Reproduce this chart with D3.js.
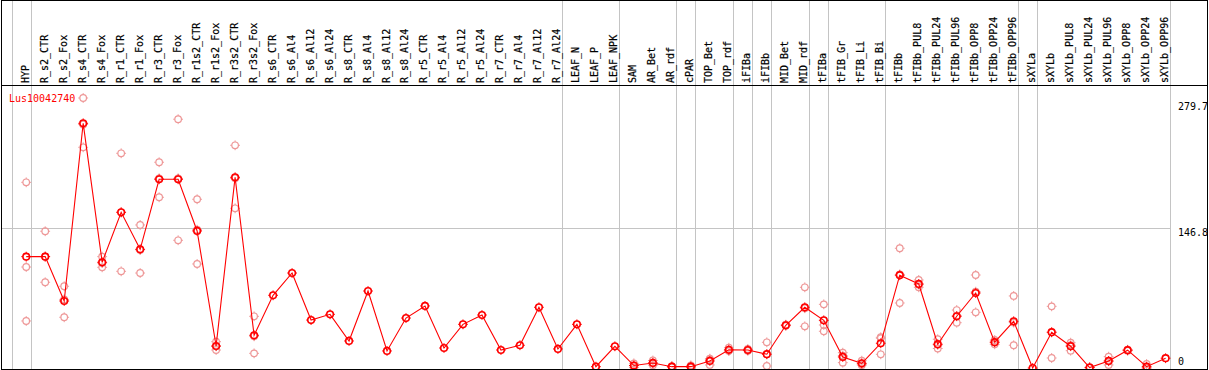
<!DOCTYPE html>
<html><head><meta charset="utf-8">
<script src="https://cdn.jsdelivr.net/npm/d3@7"></script>
<style>
html,body{margin:0;padding:0;background:#fff;}
svg{display:block;}
text{font-family:"DejaVu Sans Mono","Liberation Mono",monospace;}
</style></head>
<body>
<svg id="chart" width="1209" height="370"></svg>
<script>
const title = "Lus10042740";
const categories = ["HYP","R_s2_CTR","R_s2_Fox","R_s4_CTR","R_s4_Fox","R_r1_CTR","R_r1_Fox","R_r3_CTR","R_r3_Fox","R_r1s2_CTR","R_r1s2_Fox","R_r3s2_CTR","R_r3s2_Fox","R_s6_CTR","R_s6_Al4","R_s6_Al12","R_s6_Al24","R_s8_CTR","R_s8_Al4","R_s8_Al12","R_s8_Al24","R_r5_CTR","R_r5_Al4","R_r5_Al12","R_r5_Al24","R_r7_CTR","R_r7_Al4","R_r7_Al12","R_r7_Al24","LEAF_N","LEAF_P","LEAF_NPK","SAM","AR_Bet","AR_rdf","cPAR","TOP_Bet","TOP_rdf","iFIBa","iFIBb","MID_Bet","MID_rdf","tFIBa","tFIB_Gr","tFIB_Li","tFIB_Bi","tFIBb","tFIBb_PUL8","tFIBb_PUL24","tFIBb_PUL96","tFIBb_OPP8","tFIBb_OPP24","tFIBb_OPP96","sXYLa","sXYLb","sXYLb_PUL8","sXYLb_PUL24","sXYLb_PUL96","sXYLb_OPP8","sXYLb_OPP24","sXYLb_OPP96"];
const means = [117.0,117.0,70.4,257.1,111.1,163.6,124.7,198.3,198.3,144.0,23.1,200.4,34.4,76.4,99.8,50.4,56.4,28.4,80.9,17.9,52.5,65.2,21.0,45.9,55.7,18.9,23.9,63.8,20.0,45.9,1.4,22.8,2.6,5.3,1.4,1.4,7.4,19.1,18.9,14.5,44.9,63.8,50.1,11.6,4.9,26.0,97.5,88.3,25.0,54.4,78.8,27.1,49.1,0,37.6,22.9,0.5,7.4,18.7,1.4,10.3];
const rep1 = [195.1,143.7,85.9,283.7,117.0,225.6,150.3,216.2,261.4,177.3,27.6,234.0,54.3,null,null,null,null,null,null,null,null,null,null,null,null,null,null,null,null,null,null,null,4.9,7.9,2.0,2.8,9.8,21.3,20.0,27.0,45.5,84.8,66.9,16.1,7.7,32.3,125.8,92.5,30.2,60.9,97.7,29.4,75.7,null,64.8,26.6,0.8,11.9,19.2,4.2,null];
const rep2 = [106.1,90.1,53.3,231.9,105.8,101.6,99.8,179.4,134.2,109.3,18.9,167.8,15.4,null,null,null,null,null,null,null,null,null,null,null,null,null,null,null,null,null,null,null,2.4,5.0,1.4,1.0,3.2,18.0,18.5,2.1,44.9,43.8,45.2,5.6,4.0,14.4,68.3,84.8,20.5,47.6,58.5,24.9,23.9,null,10.5,18.2,0.5,3.2,18.7,0.0,null];
const rep3 = [49.4,117.2,72.1,255.8,110.3,163.6,124.1,199.3,199.3,145.3,22.8,199.3,33.3,null,null,null,null,null,null,null,null,null,null,null,null,null,null,null,null,null,null,null,0.5,3.0,0.8,0.4,9.2,18.0,18.2,14.4,44.3,62.8,38.6,13.1,3.0,31.3,98.4,87.6,24.3,54.7,80.2,27.0,47.7,null,37.5,23.9,0.2,7.1,18.2,0.0,null];
const tickValues = [0, 146.8, 279.7];
const gridValues = [146.8];
const groupEnds = [-1,0,28,31,34,35,37,38,39,41,42,45,52,53,60];

(function(){
const svg = d3.select("#chart");
const L = 1, R = 1207, T = 0, headerY = 85, B = 369;

const x = d3.scaleBand().domain(categories).range([11.71, 11.71 + 18.99*categories.length]).paddingInner(0).paddingOuter(0);
const bw = x.bandwidth();
const px = c => x(c) + 14.5;
const y = d3.scaleLinear().domain([0, 279.7]).range([368, 101.8]);

// separators
const sepX = groupEnds.map(i => i < 0 ? x(categories[0]) : x(categories[i]) + bw);
svg.append("g").selectAll("line").data(sepX).join("line")
  .attr("x1", d => Math.round(d)+0.5).attr("x2", d => Math.round(d)+0.5)
  .attr("y1", T).attr("y2", B)
  .attr("stroke", "#c4c4c4").attr("stroke-width", 1);

// horizontal grid
const xEnd = x(categories[categories.length-1]) + bw;
svg.append("g").selectAll("line").data(gridValues).join("line")
  .attr("x1", L).attr("x2", Math.round(xEnd)+0.5)
  .attr("y1", d => Math.round(y(d))+0.5).attr("y2", d => Math.round(y(d))+0.5)
  .attr("stroke", "#c4c4c4").attr("stroke-width", 1);

// frame
svg.append("rect").attr("x", L+0.5).attr("y", T+0.5).attr("width", R-L).attr("height", B-T)
  .attr("fill", "none").attr("stroke", "#000").attr("stroke-width", 1);
svg.append("line").attr("x1", L).attr("x2", R+1).attr("y1", headerY+0.5).attr("y2", headerY+0.5)
  .attr("stroke", "#000").attr("stroke-width", 1);

// category labels
svg.append("g").selectAll("text").data(categories).join("text")
  .attr("transform", d => `translate(${Math.round(x(d)+bw-2)},83) rotate(-90)`)
  .attr("text-anchor", "start")
  .attr("font-size", "10px").attr("fill", "#000")
  .attr("stroke", "#000").attr("stroke-width", 0.2)
  .text(d => d);

// tick labels
svg.append("g").selectAll("text").data(tickValues).join("text")
  .attr("x", 1178).attr("y", d => d === 0 ? y(d) - 3 : y(d) + 8)
  .attr("font-size", "10px").attr("fill", "#000")
  .text(d => d);

// title
svg.append("text").attr("x", 9).attr("y", 102).attr("font-size", "10px").attr("fill", "#ff0000").text(title);

svg.append("clipPath").attr("id", "plotclip").append("rect")
  .attr("x", L+1).attr("y", headerY+1).attr("width", R-L-1).attr("height", B-headerY-1);
const plot = svg.append("g").attr("clip-path", "url(#plotclip)");

function marker(g, cx, cy, color, sw) {
  const r = 3.3;
  g.append("circle").attr("cx", cx).attr("cy", cy).attr("r", r)
    .attr("fill", "none").attr("stroke", color).attr("stroke-width", sw);
  const t = 1.6;
  g.append("path").attr("d",
    `M${cx},${cy-r-t}V${cy-r}M${cx},${cy+r}V${cy+r+t}M${cx-r-t},${cy}H${cx-r}M${cx+r},${cy}H${cx+r+t}`)
    .attr("stroke", color).attr("stroke-width", 1).attr("fill", "none");
}

// replicates
const repG = plot.append("g");
[rep1, rep2, rep3].forEach(rep => {
  categories.forEach((c, i) => {
    if (rep[i] === null) return;
    marker(repG, px(c), y(rep[i]), "#ee9898", 1.2);
  });
});

// mean line
const line = d3.line().x((d, i) => px(categories[i])).y(d => y(d));
plot.append("path").datum(means).attr("d", line)
  .attr("fill", "none").attr("stroke", "#ff0000").attr("stroke-width", 1.1);

const meanG = plot.append("g");
categories.forEach((c, i) => marker(meanG, px(c), y(means[i]), "#ff0000", 1.6));
})();
</script>
</body></html>
